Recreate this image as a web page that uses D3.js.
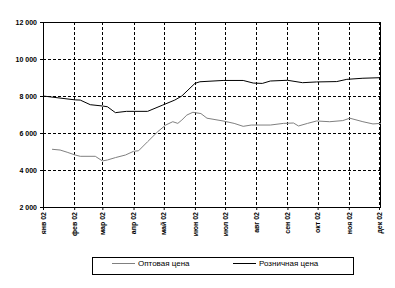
<!DOCTYPE html>
<html>
<head>
<meta charset="utf-8">
<script src="https://cdn.jsdelivr.net/npm/d3@7"></script>
<style>
  body { margin: 0; background: #fff; }
  text { font-family: "Liberation Sans", Arial, sans-serif; }
</style>
</head>
<body>
<div id="chart"></div>
<script>
var yTicks = [2000, 4000, 6000, 8000, 10000, 12000];
var monthLabels = ["янв 02", "фев 02", "мар 02", "апр 02", "май 02", "июн 02",
                   "июл 02", "авг 02", "сен 02", "окт 02", "ноя 02", "дек 02"];

var wholesaleDates = ["2002-01-10", "2002-01-18", "2002-01-25", "2002-02-02", "2002-02-07", "2002-02-22",
    "2002-03-01", "2002-03-06", "2002-03-14", "2002-03-24", "2002-04-01", "2002-04-06", "2002-04-15",
    "2002-04-25", "2002-05-03", "2002-05-10", "2002-05-15", "2002-05-19", "2002-05-24", "2002-05-30",
    "2002-06-07", "2002-06-13", "2002-06-29", "2002-07-10", "2002-07-19", "2002-07-27", "2002-08-15",
    "2002-08-28", "2002-09-07", "2002-09-12", "2002-09-21", "2002-09-30", "2002-10-13", "2002-10-26",
    "2002-11-02", "2002-11-15", "2002-11-25", "2002-12-03"];
var wholesaleValues = [5120, 5080, 4960, 4810, 4740, 4740,
    4490, 4540, 4670, 4810, 5010, 5040, 5530,
    6070, 6430, 6610, 6520, 6700, 6970, 7120,
    7050, 6800, 6650, 6520, 6360, 6430, 6430,
    6520, 6540, 6380, 6520, 6650, 6610, 6670,
    6800, 6610, 6490, 6520];

var retailDates = ["2002-01-01", "2002-02-02", "2002-02-07", "2002-02-17", "2002-03-01", "2002-03-06",
    "2002-03-14", "2002-03-25", "2002-04-15", "2002-04-30", "2002-05-12", "2002-05-19", "2002-06-01",
    "2002-06-06", "2002-06-29", "2002-07-19", "2002-07-29", "2002-08-07", "2002-08-15", "2002-09-01",
    "2002-09-16", "2002-09-30", "2002-10-20", "2002-10-30", "2002-11-15", "2002-12-03"];
var retailValues = [8000, 7790, 7780, 7530, 7460, 7420,
    7100, 7170, 7170, 7510, 7780, 8000, 8680,
    8770, 8840, 8840, 8700, 8680, 8810, 8850,
    8720, 8760, 8780, 8900, 8960, 8990];

var parse = d3.timeParse("%Y-%m-%d");

var width = 395, height = 288;
var margin = { top: 22, right: 14, bottom: 81, left: 43 };

var svg = d3.select("#chart").append("svg")
    .attr("width", width)
    .attr("height", height);

var x = d3.scaleTime()
    .domain([parse("2002-01-01"), parse("2002-12-03")])
    .range([margin.left, width - margin.right]);

var y = d3.scaleLinear()
    .domain([2000, 12000])
    .range([height - margin.bottom, margin.top]);

var months = d3.timeMonth.range(parse("2002-01-01"), parse("2002-12-02"));

// grid
svg.append("g")
    .selectAll("line")
    .data(yTicks.slice(1, -1))
    .enter().append("line")
    .attr("x1", margin.left).attr("x2", width - margin.right)
    .attr("y1", d => y(d) + 0.5).attr("y2", d => y(d) + 0.5)
    .attr("stroke", "#000")
    .attr("stroke-dasharray", "3,2");

svg.append("g")
    .selectAll("line")
    .data(months.slice(1))
    .enter().append("line")
    .attr("x1", d => Math.round(x(d)) + 0.5).attr("x2", d => Math.round(x(d)) + 0.5)
    .attr("y1", margin.top).attr("y2", height - margin.bottom)
    .attr("stroke", "#000")
    .attr("stroke-dasharray", "3,2");

// axes
var yAxis = svg.append("g")
    .attr("transform", "translate(" + margin.left + ",0)")
    .call(d3.axisLeft(y).tickValues(yTicks).tickSize(3).tickPadding(3)
        .tickFormat(d => d3.format(",")(d).replace(",", " ")));
yAxis.select(".domain").remove();
yAxis.selectAll("text")
    .attr("font-size", "7px")
    .attr("font-weight", "bold")
    .attr("font-family", null);

var xAxis = svg.append("g")
    .attr("transform", "translate(0," + (height - margin.bottom) + ")")
    .call(d3.axisBottom(x).tickValues(months).tickSize(3)
        .tickFormat((d, i) => monthLabels[i]));
xAxis.select(".domain").remove();
xAxis.selectAll("text")
    .attr("font-size", "7px")
    .attr("font-weight", "bold")
    .attr("font-family", null)
    .attr("transform", "rotate(-90)")
    .attr("text-anchor", "end")
    .attr("x", -5)
    .attr("y", 0)
    .attr("dy", "0.32em");

// frame
svg.append("rect")
    .attr("x", margin.left + 0.5)
    .attr("y", margin.top + 0.5)
    .attr("width", width - margin.left - margin.right - 1)
    .attr("height", height - margin.top - margin.bottom)
    .attr("fill", "none")
    .attr("stroke", "#000");

// lines
var line = d3.line()
    .x(d => x(d.date))
    .y(d => y(d.value));

var wholesale = wholesaleDates.map((d, i) => ({ date: parse(d), value: wholesaleValues[i] }));
var retail = retailDates.map((d, i) => ({ date: parse(d), value: retailValues[i] }));

svg.append("path")
    .datum(wholesale)
    .attr("d", line)
    .attr("fill", "none")
    .attr("stroke", "#808080")
    .attr("stroke-width", 1);

svg.append("path")
    .datum(retail)
    .attr("d", line)
    .attr("fill", "none")
    .attr("stroke", "#000")
    .attr("stroke-width", 1);

// legend
var legend = svg.append("g");
legend.append("rect")
    .attr("x", 92.5).attr("y", 257.5)
    .attr("width", 261).attr("height", 17)
    .attr("fill", "none").attr("stroke", "#000");

var legendItems = [
    { name: "Оптовая цена", color: "#808080", x: 112 },
    { name: "Розничная цена", color: "#000", x: 233 }
];

var item = legend.selectAll(".item")
    .data(legendItems)
    .enter().append("g")
    .attr("class", "item");

item.append("line")
    .attr("x1", d => d.x).attr("x2", d => d.x + 23)
    .attr("y1", 263.5).attr("y2", 263.5)
    .attr("stroke", d => d.color);

item.append("text")
    .attr("x", d => d.x + 26)
    .attr("y", 263)
    .attr("dy", "0.35em")
    .attr("font-size", "8px")
    .text(d => d.name);
</script>
</body>
</html>
